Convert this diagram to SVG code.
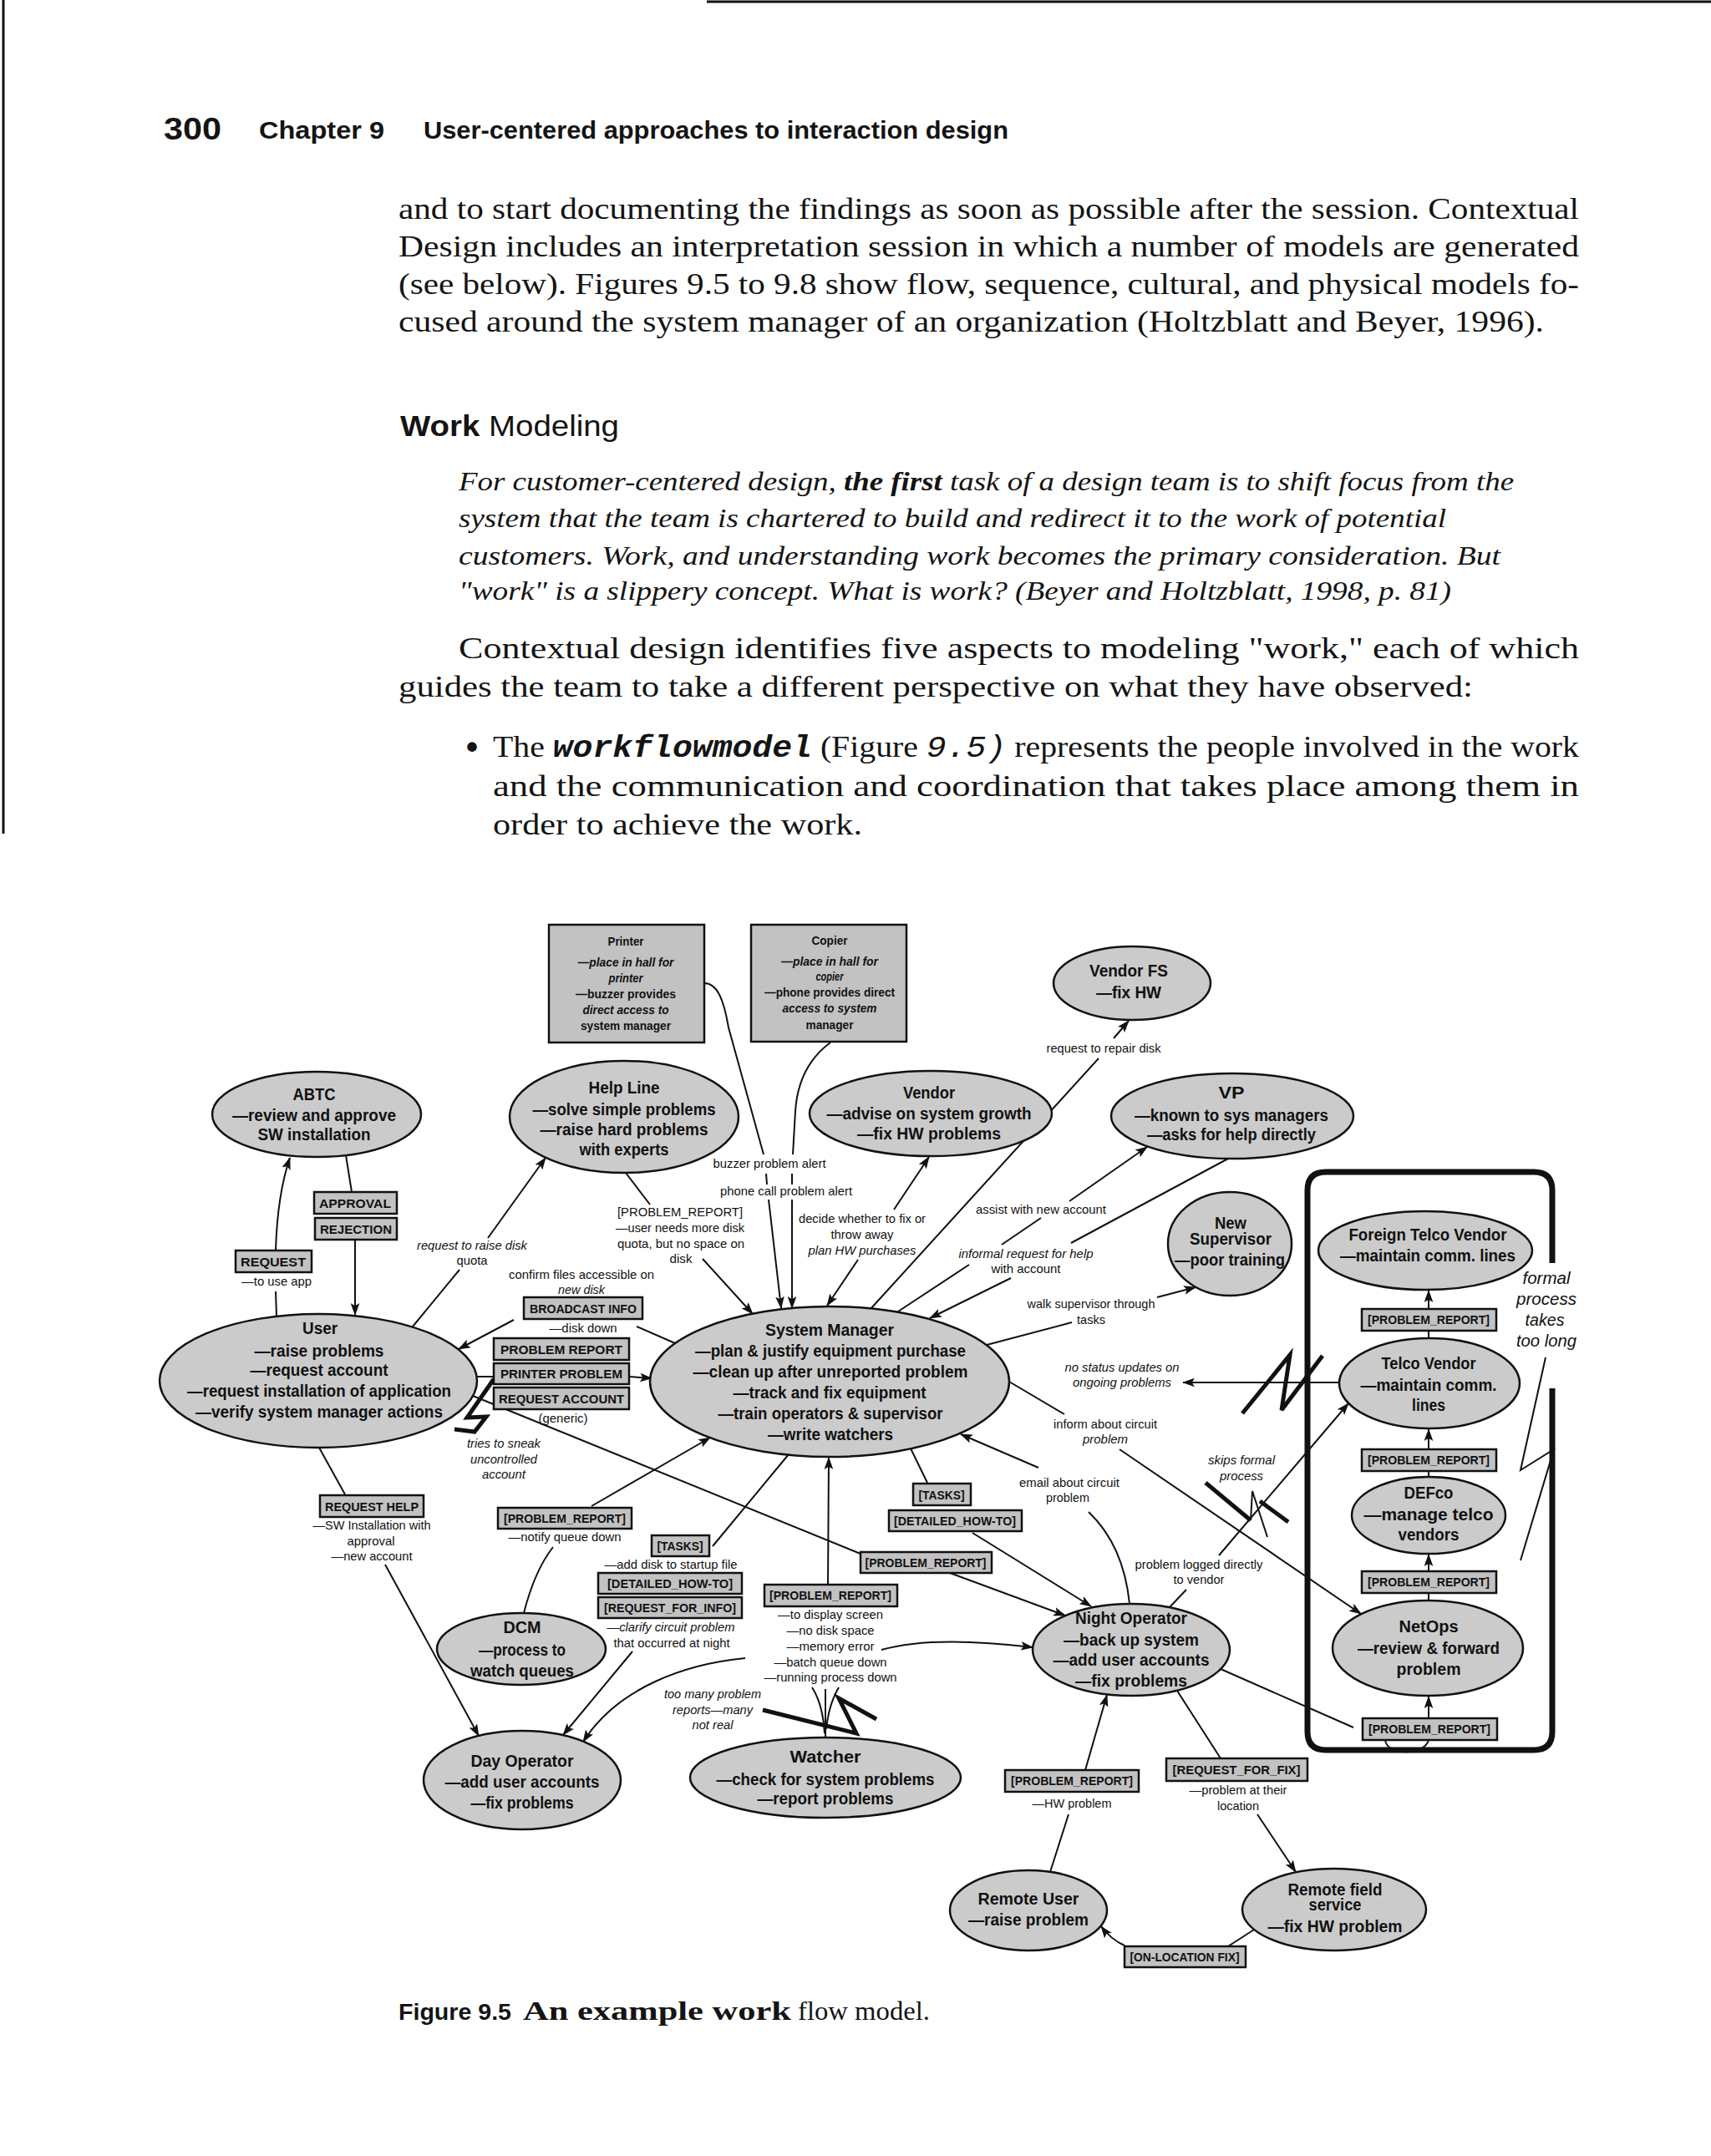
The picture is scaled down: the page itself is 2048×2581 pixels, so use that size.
<svg xmlns="http://www.w3.org/2000/svg" width="2048" height="2581" viewBox="0 0 2048 2581">
<defs>
<style>
.bd{font-family:"Liberation Serif","Times New Roman",serif;font-size:36px;fill:#141414}
.qt{font-family:"Liberation Serif","Times New Roman",serif;font-size:32px;font-style:italic;fill:#141414}
.hd{font-family:"Liberation Sans",Arial,sans-serif;font-weight:bold;fill:#141414}
.n{font-family:"Liberation Sans",Arial,sans-serif;font-weight:bold;font-size:20px;text-anchor:middle;fill:#111}
.pb{font-family:"Liberation Sans",Arial,sans-serif;font-weight:bold;font-size:14px;text-anchor:middle;fill:#111}
.bx{font-family:"Liberation Sans",Arial,sans-serif;font-weight:bold;font-size:14px;text-anchor:middle;fill:#111}
.l{font-family:"Liberation Sans",Arial,sans-serif;font-size:15px;text-anchor:middle;fill:#111}
.li{font-family:"Liberation Sans",Arial,sans-serif;font-size:15px;font-style:italic;text-anchor:middle;fill:#111}
.fp{font-family:"Liberation Sans",Arial,sans-serif;font-size:20px;font-style:italic;text-anchor:middle;fill:#111}
.el{fill:#cbcbcb;stroke:#111;stroke-width:2.5}
.rb{fill:#c2c2c2;stroke:#111;stroke-width:2.5}
.c{fill:none;stroke:#111;stroke-width:2}
.a{marker-end:url(#ah)}
.z{fill:none;stroke:#111;stroke-width:5;stroke-linejoin:miter}
.zt{fill:none;stroke:#111;stroke-width:2}
</style>
<marker id="ah" viewBox="0 0 14 10" refX="13" refY="5" markerWidth="15" markerHeight="11" markerUnits="userSpaceOnUse" orient="auto">
<path d="M0,0 L14,5 L0,10 L3,5 z" fill="#111"/>
</marker>
</defs>
<rect width="2048" height="2581" fill="#ffffff"/>

<g id="page">
<line x1="846" y1="2" x2="2048" y2="2" stroke="#111" stroke-width="3"/>
<line x1="4" y1="0" x2="4" y2="998" stroke="#111" stroke-width="3"/>
<text class="hd" x="196" y="167" font-size="36" textLength="69" lengthAdjust="spacingAndGlyphs">300</text>
<text class="hd" x="310" y="166" font-size="29" textLength="150" lengthAdjust="spacingAndGlyphs">Chapter 9</text>
<text class="hd" x="507" y="166" font-size="29" textLength="700" lengthAdjust="spacingAndGlyphs">User-centered approaches to interaction design</text>
<text class="bd" x="477" y="262" textLength="1413" lengthAdjust="spacingAndGlyphs">and to start documenting the findings as soon as possible after the session. Contextual</text>
<text class="bd" x="477" y="307" textLength="1413" lengthAdjust="spacingAndGlyphs">Design includes an interpretation session in which a number of models are generated</text>
<text class="bd" x="477" y="352" textLength="1413" lengthAdjust="spacingAndGlyphs">(see below). Figures 9.5 to 9.8 show flow, sequence, cultural, and physical models fo-</text>
<text class="bd" x="477" y="397" textLength="1371" lengthAdjust="spacingAndGlyphs">cused around the system manager of an organization (Holtzblatt and Beyer, 1996).</text>
<text x="479" y="522" font-family="Liberation Sans, Arial, sans-serif" font-size="35" fill="#141414" textLength="262" lengthAdjust="spacingAndGlyphs"><tspan font-weight="bold">Work</tspan> Modeling</text>
<text class="qt" x="549" y="587" textLength="1263" lengthAdjust="spacingAndGlyphs">For customer-centered design, <tspan font-weight="bold">the first</tspan> task of a design team is to shift focus from the</text>
<text class="qt" x="549" y="631" textLength="1182" lengthAdjust="spacingAndGlyphs">system that the team is chartered to build and redirect it to the work of potential</text>
<text class="qt" x="549" y="676" textLength="1247" lengthAdjust="spacingAndGlyphs">customers. Work, and understanding work becomes the primary consideration. But</text>
<text class="qt" x="549" y="718" textLength="1188" lengthAdjust="spacingAndGlyphs">"work" is a slippery concept. What is work? (Beyer and Holtzblatt, 1998, p. 81)</text>
<text class="bd" x="549" y="788" textLength="1341" lengthAdjust="spacingAndGlyphs">Contextual design identifies five aspects to modeling "work," each of which</text>
<text class="bd" x="477" y="834" textLength="1286" lengthAdjust="spacingAndGlyphs">guides the team to take a different perspective on what they have observed:</text>
<text x="558" y="908" font-family="Liberation Sans, Arial, sans-serif" font-size="40" font-weight="bold" fill="#141414">•</text>
<text class="bd" x="590" y="906" textLength="1300" lengthAdjust="spacingAndGlyphs">The <tspan font-family="Liberation Mono, Courier New, monospace" font-weight="bold" font-style="italic">workflowmodel</tspan> (Figure <tspan font-family="Liberation Mono, Courier New, monospace" font-style="italic">9.5)</tspan> represents the people involved in the work</text>
<text class="bd" x="590" y="953" textLength="1300" lengthAdjust="spacingAndGlyphs">and the communication and coordination that takes place among them in</text>
<text class="bd" x="590" y="999" textLength="442" lengthAdjust="spacingAndGlyphs">order to achieve the work.</text>
</g>

<g id="connectors">
<path class="c" d="M331,1576 L330,1546"/>
<path class="c a" d="M330,1497 Q332,1430 347,1386"/>
<path class="c" d="M414,1383 L421,1427"/>
<path class="c a" d="M425,1485 L425,1574"/>
<path class="c" d="M494,1588 L550,1520"/>
<path class="c a" d="M584,1482 L653,1386"/>
<path class="c" d="M749,1404 L778,1442"/>
<path class="c a" d="M841,1507 L901,1573"/>
<path class="c" d="M843,1177 C858,1177 866,1195 872,1230 L914,1382"/>
<path class="c" d="M917,1405 L918,1418"/>
<path class="c a" d="M920,1436 L935,1566"/>
<path class="c" d="M994,1248 C975,1262 955,1285 952,1330 L949,1382"/>
<path class="c" d="M948,1405 L948,1418"/>
<path class="c a" d="M948,1436 L948,1566"/>
<path class="c a" d="M1027,1508 L990,1563"/>
<path class="c a" d="M1070,1448 L1112,1385"/>
<path class="c" d="M1042,1567 L1315,1267"/>
<path class="c a" d="M1333,1243 L1351,1222"/>
<path class="c" d="M1072,1572 L1160,1514"/>
<path class="c" d="M1199,1490 L1246,1458"/>
<path class="c a" d="M1280,1438 L1373,1373"/>
<path class="c" d="M1470,1387 L1282,1488"/>
<path class="c a" d="M1210,1530 L1113,1578"/>
<path class="c" d="M1181,1610 L1283,1583"/>
<path class="c a" d="M1385,1553 L1431,1541"/>
<path class="c" d="M1208,1654 L1274,1693"/>
<path class="c a" d="M1340,1735 L1629,1932"/>
<path class="c a" d="M1603,1655 L1416,1655"/>
<path class="c" d="M1400,1924 L1420,1903"/>
<path class="c a" d="M1459,1862 L1614,1680"/>
<path class="c" d="M1352,1920 Q1345,1850 1303,1810"/>
<path class="c a" d="M1243,1757 L1150,1717"/>
<path class="c" d="M1090,1734 L1110,1775"/>
<path class="c a" d="M1164,1835 L1306,1923"/>
<path class="c" d="M566,1671 L1030,1860"/>
<path class="c a" d="M1137,1883 L1275,1934"/>
<path class="c" d="M627,1931 Q640,1880 662,1852"/>
<path class="c a" d="M708,1803 L850,1721"/>
<path class="c" d="M944,1741 L853,1851"/>
<path class="c a" d="M757,1977 L674,2077"/>
<path class="c" d="M382,1733 L413,1789"/>
<path class="c a" d="M461,1873 L573,2078"/>
<path class="c" d="M988,2080 L988,2022"/>
<path class="c" d="M972,2020 Q985,2040 987,2075"/>
<path class="c" d="M1004,2020 Q992,2040 989,2070"/>
<path class="c a" d="M991,1897 L992,1745"/>
<path class="c a" d="M1055,1975 C1100,1962 1170,1964 1236,1972"/>
<path class="c a" d="M892,1985 C820,1992 740,2020 698,2085"/>
<path class="c" d="M1461,1998 L1620,2068"/>
<path class="c a" d="M1710,2057 L1710,2031"/>
<path class="c" d="M1658,2083 C1660,2102 1705,2102 1710,2083"/>
<path class="c" d="M1710,1916 L1710,1907"/>
<path class="c a" d="M1710,1881 L1710,1861"/>
<path class="c" d="M1710,1768 L1710,1761"/>
<path class="c a" d="M1710,1735 L1710,1711"/>
<path class="c" d="M1710,1602 L1710,1593"/>
<path class="c a" d="M1710,1567 L1710,1545"/>
<path class="c" d="M1257,2241 L1279,2172"/>
<path class="c a" d="M1299,2119 L1325,2029"/>
<path class="c" d="M1409,2024 L1461,2105"/>
<path class="c a" d="M1505,2172 L1551,2241"/>
<path class="c" d="M1501,2310 L1470,2330"/>
<path class="c a" d="M1346,2329 Q1330,2322 1318,2306"/>
<path class="c" d="M571,1648 L591,1648"/>
<path class="c a" d="M753,1648 L780,1650"/>
<path class="c" d="M808,1608 L762,1588"/>
<path class="c a" d="M615,1580 L549,1615"/>
<polyline class="z" points="591,1651 559,1697 582,1696 568,1714 544,1711"/>
<polyline class="z" points="1487,1692 1544,1622 1534,1688 1583,1623"/>
<line class="z" x1="1443" y1="1775" x2="1497" y2="1820"/>
<polyline class="zt" points="1497,1820 1499,1785 1517,1840"/>
<line class="z" x1="1508" y1="1797" x2="1542" y2="1822"/>
<polyline class="z" points="913,2047 1025,2075 1004,2033 1049,2058"/>
<polyline class="zt" points="1850,1625 1820,1760 1860,1735 1820,1868"/>
</g>

<g id="formal-boundary">
<path d="M1858,1512 L1858,1425 Q1858,1403 1836,1403 L1587,1403 Q1565,1403 1565,1425 L1565,2073 Q1565,2095 1587,2095 L1836,2095 Q1858,2095 1858,2073 L1858,1662" fill="none" stroke="#111" stroke-width="7"/>
</g>

<g id="node-printer">
<rect class="rb" x="657" y="1107" width="186" height="141"/>
<text class="pb" x="749" y="1132" textLength="43" lengthAdjust="spacingAndGlyphs">Printer</text>
<text class="pb" x="749" y="1157" textLength="115" lengthAdjust="spacingAndGlyphs" font-style="italic">—place in hall for</text>
<text class="pb" x="749" y="1176" textLength="41" lengthAdjust="spacingAndGlyphs" font-style="italic">printer</text>
<text class="pb" x="749" y="1195" textLength="120" lengthAdjust="spacingAndGlyphs">—buzzer provides</text>
<text class="pb" x="749" y="1214" textLength="103" lengthAdjust="spacingAndGlyphs" font-style="italic">direct access to</text>
<text class="pb" x="749" y="1233" textLength="108" lengthAdjust="spacingAndGlyphs">system manager</text>
</g>
<g id="node-copier">
<rect class="rb" x="899" y="1107" width="186" height="140"/>
<text class="pb" x="993" y="1131" textLength="43" lengthAdjust="spacingAndGlyphs">Copier</text>
<text class="pb" x="993" y="1156" textLength="116" lengthAdjust="spacingAndGlyphs" font-style="italic">—place in hall for</text>
<text class="pb" x="993" y="1174" textLength="33" lengthAdjust="spacingAndGlyphs" font-style="italic">copier</text>
<text class="pb" x="993" y="1193" textLength="156" lengthAdjust="spacingAndGlyphs">—phone provides direct</text>
<text class="pb" x="993" y="1212" textLength="113" lengthAdjust="spacingAndGlyphs" font-style="italic">access to system</text>
<text class="pb" x="993" y="1232" textLength="57" lengthAdjust="spacingAndGlyphs">manager</text>
</g>
<g id="node-vendor-fs">
<ellipse class="el" cx="1355" cy="1177" rx="94" ry="44"/>
<text class="n" x="1351" y="1169" textLength="94" lengthAdjust="spacingAndGlyphs">Vendor FS</text>
<text class="n" x="1351" y="1195" textLength="78" lengthAdjust="spacingAndGlyphs">—fix HW</text>
</g>
<g id="node-abtc">
<ellipse class="el" cx="379" cy="1334" rx="125" ry="51"/>
<text class="n" x="376" y="1317" textLength="51" lengthAdjust="spacingAndGlyphs">ABTC</text>
<text class="n" x="376" y="1342" textLength="196" lengthAdjust="spacingAndGlyphs">—review and approve</text>
<text class="n" x="376" y="1365" textLength="135" lengthAdjust="spacingAndGlyphs">SW installation</text>
</g>
<g id="node-help-line">
<ellipse class="el" cx="747" cy="1337" rx="137" ry="67"/>
<text class="n" x="747" y="1309" textLength="85" lengthAdjust="spacingAndGlyphs">Help Line</text>
<text class="n" x="747" y="1335" textLength="219" lengthAdjust="spacingAndGlyphs">—solve simple problems</text>
<text class="n" x="747" y="1359" textLength="201" lengthAdjust="spacingAndGlyphs">—raise hard problems</text>
<text class="n" x="747" y="1383" textLength="107" lengthAdjust="spacingAndGlyphs">with experts</text>
</g>
<g id="node-vendor">
<ellipse class="el" cx="1114" cy="1333" rx="145" ry="51"/>
<text class="n" x="1112" y="1315" textLength="62" lengthAdjust="spacingAndGlyphs">Vendor</text>
<text class="n" x="1112" y="1340" textLength="245" lengthAdjust="spacingAndGlyphs">—advise on system growth</text>
<text class="n" x="1112" y="1364" textLength="172" lengthAdjust="spacingAndGlyphs">—fix HW problems</text>
</g>
<g id="node-vp">
<ellipse class="el" cx="1475" cy="1336" rx="145" ry="51"/>
<text class="n" x="1474" y="1315" textLength="31" lengthAdjust="spacingAndGlyphs">VP</text>
<text class="n" x="1474" y="1342" textLength="232" lengthAdjust="spacingAndGlyphs">—known to sys managers</text>
<text class="n" x="1474" y="1365" textLength="202" lengthAdjust="spacingAndGlyphs">—asks for help directly</text>
</g>
<g id="node-new-supervisor">
<ellipse class="el" cx="1472" cy="1489" rx="74" ry="62"/>
<text class="n" x="1473" y="1471" textLength="38" lengthAdjust="spacingAndGlyphs">New</text>
<text class="n" x="1473" y="1490" textLength="98" lengthAdjust="spacingAndGlyphs">Supervisor</text>
<text class="n" x="1472" y="1515" textLength="132" lengthAdjust="spacingAndGlyphs">—poor training</text>
</g>
<g id="node-foreign-telco-vendor">
<ellipse class="el" cx="1706" cy="1497" rx="128" ry="47"/>
<text class="n" x="1709" y="1485" textLength="189" lengthAdjust="spacingAndGlyphs">Foreign Telco Vendor</text>
<text class="n" x="1709" y="1510" textLength="210" lengthAdjust="spacingAndGlyphs">—maintain comm. lines</text>
</g>
<g id="node-telco-vendor">
<ellipse class="el" cx="1711" cy="1656" rx="108" ry="54"/>
<text class="n" x="1710" y="1639" textLength="113" lengthAdjust="spacingAndGlyphs">Telco Vendor</text>
<text class="n" x="1710" y="1665" textLength="163" lengthAdjust="spacingAndGlyphs">—maintain comm.</text>
<text class="n" x="1710" y="1689" textLength="40" lengthAdjust="spacingAndGlyphs">lines</text>
</g>
<g id="node-defco">
<ellipse class="el" cx="1710" cy="1814" rx="92" ry="46"/>
<text class="n" x="1710" y="1794" textLength="59" lengthAdjust="spacingAndGlyphs">DEFco</text>
<text class="n" x="1710" y="1820" textLength="155" lengthAdjust="spacingAndGlyphs">—manage telco</text>
<text class="n" x="1710" y="1844" textLength="73" lengthAdjust="spacingAndGlyphs">vendors</text>
</g>
<g id="node-netops">
<ellipse class="el" cx="1709" cy="1973" rx="114" ry="57"/>
<text class="n" x="1710" y="1954" textLength="71" lengthAdjust="spacingAndGlyphs">NetOps</text>
<text class="n" x="1710" y="1980" textLength="170" lengthAdjust="spacingAndGlyphs">—review &amp; forward</text>
<text class="n" x="1710" y="2005" textLength="77" lengthAdjust="spacingAndGlyphs">problem</text>
</g>
<g id="node-user">
<ellipse class="el" cx="381" cy="1653" rx="190" ry="80"/>
<text class="n" x="383" y="1597" textLength="42" lengthAdjust="spacingAndGlyphs">User</text>
<text class="n" x="382" y="1624" textLength="155" lengthAdjust="spacingAndGlyphs">—raise problems</text>
<text class="n" x="382" y="1647" textLength="165" lengthAdjust="spacingAndGlyphs">—request account</text>
<text class="n" x="382" y="1672" textLength="316" lengthAdjust="spacingAndGlyphs">—request installation of application</text>
<text class="n" x="382" y="1697" textLength="296" lengthAdjust="spacingAndGlyphs">—verify system manager actions</text>
</g>
<g id="node-system-manager">
<ellipse class="el" cx="993" cy="1654" rx="215" ry="90"/>
<text class="n" x="993" y="1599" textLength="154" lengthAdjust="spacingAndGlyphs">System Manager</text>
<text class="n" x="994" y="1624" textLength="324" lengthAdjust="spacingAndGlyphs">—plan &amp; justify equipment purchase</text>
<text class="n" x="994" y="1649" textLength="329" lengthAdjust="spacingAndGlyphs">—clean up after unreported problem</text>
<text class="n" x="993" y="1674" textLength="231" lengthAdjust="spacingAndGlyphs">—track and fix equipment</text>
<text class="n" x="994" y="1699" textLength="269" lengthAdjust="spacingAndGlyphs">—train operators &amp; supervisor</text>
<text class="n" x="994" y="1724" textLength="150" lengthAdjust="spacingAndGlyphs">—write watchers</text>
</g>
<g id="node-dcm">
<ellipse class="el" cx="624" cy="1974" rx="101" ry="43"/>
<text class="n" x="625" y="1955" textLength="45" lengthAdjust="spacingAndGlyphs">DCM</text>
<text class="n" x="625" y="1982" textLength="104" lengthAdjust="spacingAndGlyphs">—process to</text>
<text class="n" x="625" y="2007" textLength="124" lengthAdjust="spacingAndGlyphs">watch queues</text>
</g>
<g id="node-day-operator">
<ellipse class="el" cx="625" cy="2131" rx="118" ry="59"/>
<text class="n" x="625" y="2115" textLength="123" lengthAdjust="spacingAndGlyphs">Day Operator</text>
<text class="n" x="625" y="2140" textLength="185" lengthAdjust="spacingAndGlyphs">—add user accounts</text>
<text class="n" x="625" y="2165" textLength="123" lengthAdjust="spacingAndGlyphs">—fix problems</text>
</g>
<g id="node-watcher">
<ellipse class="el" cx="988" cy="2128" rx="162" ry="48"/>
<text class="n" x="988" y="2110" textLength="85" lengthAdjust="spacingAndGlyphs">Watcher</text>
<text class="n" x="988" y="2137" textLength="261" lengthAdjust="spacingAndGlyphs">—check for system problems</text>
<text class="n" x="988" y="2160" textLength="163" lengthAdjust="spacingAndGlyphs">—report problems</text>
</g>
<g id="node-night-operator">
<ellipse class="el" cx="1354" cy="1975" rx="118" ry="55"/>
<text class="n" x="1354" y="1944" textLength="134" lengthAdjust="spacingAndGlyphs">Night Operator</text>
<text class="n" x="1354" y="1970" textLength="162" lengthAdjust="spacingAndGlyphs">—back up system</text>
<text class="n" x="1354" y="1994" textLength="187" lengthAdjust="spacingAndGlyphs">—add user accounts</text>
<text class="n" x="1354" y="2019" textLength="134" lengthAdjust="spacingAndGlyphs">—fix problems</text>
</g>
<g id="node-remote-user">
<ellipse class="el" cx="1231" cy="2287" rx="94" ry="48"/>
<text class="n" x="1231" y="2280" textLength="121" lengthAdjust="spacingAndGlyphs">Remote User</text>
<text class="n" x="1231" y="2305" textLength="144" lengthAdjust="spacingAndGlyphs">—raise problem</text>
</g>
<g id="node-remote-field-service">
<ellipse class="el" cx="1597" cy="2286" rx="110" ry="49"/>
<text class="n" x="1598" y="2269" textLength="113" lengthAdjust="spacingAndGlyphs">Remote field</text>
<text class="n" x="1598" y="2287" textLength="63" lengthAdjust="spacingAndGlyphs">service</text>
<text class="n" x="1598" y="2313" textLength="161" lengthAdjust="spacingAndGlyphs">—fix HW problem</text>
</g>

<g id="edge-label-boxes">
<rect class="rb" x="376" y="1427" width="99" height="26"/>
<text class="bx" x="425" y="1446" textLength="86" lengthAdjust="spacingAndGlyphs">APPROVAL</text>
<rect class="rb" x="377" y="1458" width="98" height="26"/>
<text class="bx" x="426" y="1477" textLength="86" lengthAdjust="spacingAndGlyphs">REJECTION</text>
<rect class="rb" x="282" y="1497" width="91" height="26"/>
<text class="bx" x="327" y="1516" textLength="78" lengthAdjust="spacingAndGlyphs">REQUEST</text>
<rect class="rb" x="627" y="1553" width="142" height="26"/>
<text class="bx" x="698" y="1572" textLength="128" lengthAdjust="spacingAndGlyphs">BROADCAST INFO</text>
<rect class="rb" x="591" y="1602" width="162" height="26"/>
<text class="bx" x="672" y="1621" textLength="146" lengthAdjust="spacingAndGlyphs">PROBLEM REPORT</text>
<rect class="rb" x="591" y="1632" width="162" height="25"/>
<text class="bx" x="672" y="1650" textLength="146" lengthAdjust="spacingAndGlyphs">PRINTER PROBLEM</text>
<rect class="rb" x="591" y="1661" width="162" height="26"/>
<text class="bx" x="672" y="1680" textLength="150" lengthAdjust="spacingAndGlyphs">REQUEST ACCOUNT</text>
<rect class="rb" x="383" y="1790" width="124" height="26"/>
<text class="bx" x="445" y="1809" textLength="112" lengthAdjust="spacingAndGlyphs">REQUEST HELP</text>
<rect class="rb" x="596" y="1805" width="160" height="25"/>
<text class="bx" x="676" y="1823" textLength="146" lengthAdjust="spacingAndGlyphs">[PROBLEM_REPORT]</text>
<rect class="rb" x="780" y="1838" width="69" height="25"/>
<text class="bx" x="814" y="1856" textLength="55" lengthAdjust="spacingAndGlyphs">[TASKS]</text>
<rect class="rb" x="716" y="1883" width="172" height="25"/>
<text class="bx" x="802" y="1901" textLength="150" lengthAdjust="spacingAndGlyphs">[DETAILED_HOW-TO]</text>
<rect class="rb" x="716" y="1912" width="172" height="25"/>
<text class="bx" x="802" y="1930" textLength="158" lengthAdjust="spacingAndGlyphs">[REQUEST_FOR_INFO]</text>
<rect class="rb" x="915" y="1897" width="159" height="26"/>
<text class="bx" x="994" y="1915" textLength="146" lengthAdjust="spacingAndGlyphs">[PROBLEM_REPORT]</text>
<rect class="rb" x="1093" y="1776" width="69" height="26"/>
<text class="bx" x="1127" y="1795" textLength="55" lengthAdjust="spacingAndGlyphs">[TASKS]</text>
<rect class="rb" x="1064" y="1808" width="159" height="25"/>
<text class="bx" x="1143" y="1826" textLength="146" lengthAdjust="spacingAndGlyphs">[DETAILED_HOW-TO]</text>
<rect class="rb" x="1030" y="1858" width="157" height="25"/>
<text class="bx" x="1108" y="1876" textLength="145" lengthAdjust="spacingAndGlyphs">[PROBLEM_REPORT]</text>
<rect class="rb" x="1630" y="1567" width="161" height="26"/>
<text class="bx" x="1710" y="1585" textLength="146" lengthAdjust="spacingAndGlyphs">[PROBLEM_REPORT]</text>
<rect class="rb" x="1630" y="1735" width="161" height="26"/>
<text class="bx" x="1710" y="1753" textLength="146" lengthAdjust="spacingAndGlyphs">[PROBLEM_REPORT]</text>
<rect class="rb" x="1630" y="1881" width="161" height="26"/>
<text class="bx" x="1710" y="1899" textLength="146" lengthAdjust="spacingAndGlyphs">[PROBLEM_REPORT]</text>
<rect class="rb" x="1631" y="2057" width="161" height="26"/>
<text class="bx" x="1711" y="2075" textLength="146" lengthAdjust="spacingAndGlyphs">[PROBLEM_REPORT]</text>
<rect class="rb" x="1203" y="2119" width="160" height="26"/>
<text class="bx" x="1283" y="2137" textLength="146" lengthAdjust="spacingAndGlyphs">[PROBLEM_REPORT]</text>
<rect class="rb" x="1396" y="2105" width="169" height="27"/>
<text class="bx" x="1480" y="2124" textLength="153" lengthAdjust="spacingAndGlyphs">[REQUEST_FOR_FIX]</text>
<rect class="rb" x="1346" y="2330" width="145" height="25"/>
<text class="bx" x="1418" y="2348" textLength="131" lengthAdjust="spacingAndGlyphs">[ON-LOCATION FIX]</text>
</g>

<g id="edge-labels">
<text class="l" x="331" y="1539" textLength="84" lengthAdjust="spacingAndGlyphs">—to use app</text>
<text class="li" x="565" y="1496" textLength="132" lengthAdjust="spacingAndGlyphs">request to raise disk</text>
<text class="l" x="565" y="1514" textLength="37" lengthAdjust="spacingAndGlyphs">quota</text>
<text class="l" x="696" y="1531" textLength="174" lengthAdjust="spacingAndGlyphs">confirm files accessible on</text>
<text class="li" x="696" y="1549" textLength="56" lengthAdjust="spacingAndGlyphs">new disk</text>
<text class="l" x="698" y="1595" textLength="81" lengthAdjust="spacingAndGlyphs">—disk down</text>
<text class="l" x="674" y="1703" textLength="59" lengthAdjust="spacingAndGlyphs">(generic)</text>
<text class="li" x="603" y="1733" textLength="88" lengthAdjust="spacingAndGlyphs">tries to sneak</text>
<text class="li" x="603" y="1752" textLength="80" lengthAdjust="spacingAndGlyphs">uncontrolled</text>
<text class="li" x="603" y="1770" textLength="52" lengthAdjust="spacingAndGlyphs">account</text>
<text class="l" x="445" y="1831" textLength="141" lengthAdjust="spacingAndGlyphs">—SW Installation with</text>
<text class="l" x="444" y="1850" textLength="57" lengthAdjust="spacingAndGlyphs">approval</text>
<text class="l" x="445" y="1868" textLength="97" lengthAdjust="spacingAndGlyphs">—new account</text>
<text class="l" x="676" y="1845" textLength="135" lengthAdjust="spacingAndGlyphs">—notify queue down</text>
<text class="l" x="803" y="1878" textLength="159" lengthAdjust="spacingAndGlyphs">—add disk to startup file</text>
<text class="li" x="803" y="1953" textLength="153" lengthAdjust="spacingAndGlyphs">—clarify circuit problem</text>
<text class="l" x="804" y="1972" textLength="139" lengthAdjust="spacingAndGlyphs">that occurred at night</text>
<text class="l" x="994" y="1938" textLength="126" lengthAdjust="spacingAndGlyphs">—to display screen</text>
<text class="l" x="994" y="1957" textLength="105" lengthAdjust="spacingAndGlyphs">—no disk space</text>
<text class="l" x="994" y="1976" textLength="105" lengthAdjust="spacingAndGlyphs">—memory error</text>
<text class="l" x="994" y="1995" textLength="135" lengthAdjust="spacingAndGlyphs">—batch queue down</text>
<text class="l" x="994" y="2013" textLength="159" lengthAdjust="spacingAndGlyphs">—running process down</text>
<text class="li" x="853" y="2033" textLength="116" lengthAdjust="spacingAndGlyphs">too many problem</text>
<text class="li" x="853" y="2052" textLength="96" lengthAdjust="spacingAndGlyphs">reports—many</text>
<text class="li" x="853" y="2070" textLength="49" lengthAdjust="spacingAndGlyphs">not real</text>
<text class="l" x="814" y="1456" textLength="150" lengthAdjust="spacingAndGlyphs">[PROBLEM_REPORT]</text>
<text class="l" x="814" y="1475" textLength="154" lengthAdjust="spacingAndGlyphs">—user needs more disk</text>
<text class="l" x="815" y="1494" textLength="152" lengthAdjust="spacingAndGlyphs">quota, but no space on</text>
<text class="l" x="815" y="1512" textLength="27" lengthAdjust="spacingAndGlyphs">disk</text>
<text class="l" x="921" y="1398" textLength="135" lengthAdjust="spacingAndGlyphs">buzzer problem alert</text>
<text class="l" x="941" y="1431" textLength="158" lengthAdjust="spacingAndGlyphs">phone call problem alert</text>
<text class="l" x="1032" y="1464" textLength="152" lengthAdjust="spacingAndGlyphs">decide whether to fix or</text>
<text class="l" x="1032" y="1483" textLength="75" lengthAdjust="spacingAndGlyphs">throw away</text>
<text class="li" x="1032" y="1502" textLength="129" lengthAdjust="spacingAndGlyphs">plan HW purchases</text>
<text class="l" x="1321" y="1260" textLength="137" lengthAdjust="spacingAndGlyphs">request to repair disk</text>
<text class="l" x="1246" y="1453" textLength="156" lengthAdjust="spacingAndGlyphs">assist with new account</text>
<text class="li" x="1228" y="1506" textLength="161" lengthAdjust="spacingAndGlyphs">informal request for help</text>
<text class="l" x="1228" y="1524" textLength="83" lengthAdjust="spacingAndGlyphs">with account</text>
<text class="l" x="1306" y="1566" textLength="153" lengthAdjust="spacingAndGlyphs">walk supervisor through</text>
<text class="l" x="1306" y="1585" textLength="34" lengthAdjust="spacingAndGlyphs">tasks</text>
<text class="li" x="1343" y="1642" textLength="137" lengthAdjust="spacingAndGlyphs">no status updates on</text>
<text class="li" x="1343" y="1660" textLength="118" lengthAdjust="spacingAndGlyphs">ongoing problems</text>
<text class="l" x="1323" y="1710" textLength="124" lengthAdjust="spacingAndGlyphs">inform about circuit</text>
<text class="li" x="1323" y="1728" textLength="54" lengthAdjust="spacingAndGlyphs">problem</text>
<text class="l" x="1280" y="1780" textLength="120" lengthAdjust="spacingAndGlyphs">email about circuit</text>
<text class="l" x="1278" y="1798" textLength="52" lengthAdjust="spacingAndGlyphs">problem</text>
<text class="li" x="1486" y="1753" textLength="80" lengthAdjust="spacingAndGlyphs">skips formal</text>
<text class="li" x="1486" y="1772" textLength="52" lengthAdjust="spacingAndGlyphs">process</text>
<text class="l" x="1435" y="1878" textLength="153" lengthAdjust="spacingAndGlyphs">problem logged directly</text>
<text class="l" x="1435" y="1896" textLength="61" lengthAdjust="spacingAndGlyphs">to vendor</text>
<text class="fp" x="1851" y="1537" textLength="57" lengthAdjust="spacingAndGlyphs">formal</text>
<text class="fp" x="1851" y="1562" textLength="72" lengthAdjust="spacingAndGlyphs">process</text>
<text class="fp" x="1849" y="1587" textLength="47" lengthAdjust="spacingAndGlyphs">takes</text>
<text class="fp" x="1851" y="1612" textLength="72" lengthAdjust="spacingAndGlyphs">too long</text>
<text class="l" x="1283" y="2164" textLength="95" lengthAdjust="spacingAndGlyphs">—HW problem</text>
<text class="l" x="1482" y="2148" textLength="117" lengthAdjust="spacingAndGlyphs">—problem at their</text>
<text class="l" x="1482" y="2167" textLength="50" lengthAdjust="spacingAndGlyphs">location</text>
</g>

<g id="caption">
<text class="hd" x="477" y="2418" font-size="28" textLength="135" lengthAdjust="spacingAndGlyphs">Figure 9.5</text>
<text x="626" y="2418" font-family="Liberation Serif, Times New Roman, serif" font-weight="bold" font-size="31" fill="#141414" textLength="321" lengthAdjust="spacingAndGlyphs">An example work</text>
<text x="955" y="2418" font-family="Liberation Serif, Times New Roman, serif" font-size="31" fill="#141414" textLength="158" lengthAdjust="spacingAndGlyphs">flow model.</text>
</g>
</svg>
